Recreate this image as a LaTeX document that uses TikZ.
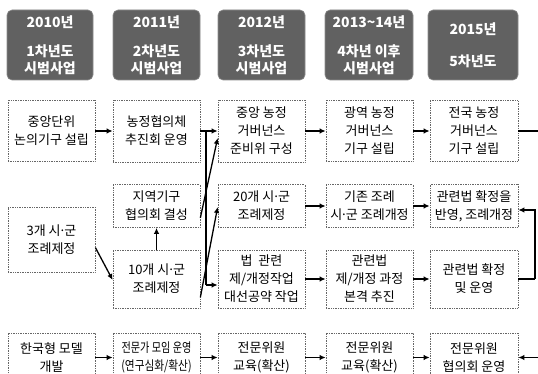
\documentclass[tikz,border=0pt]{standalone}
\usepackage{fontspec}
\setmainfont{Noto Sans CJK KR}
\usetikzlibrary{arrows.meta,calc}
\newcommand{\mdt}{\kern-1.8pt·\kern-1.8pt}
\tikzset{
  hdr/.style={rectangle, rounded corners=5pt, fill=black!62, draw=black!45, line width=0.6pt,
    text=white, font=\bfseries\fontsize{14}{17}\selectfont, align=center,
    minimum width=87pt, minimum height=70pt, inner sep=0pt},
  box/.style={rectangle, draw=black!60, densely dotted, line width=0.7pt,
    font=\fontsize{13}{18}\selectfont, align=center, inner sep=1pt,
    minimum width=87pt},
  arr/.style={-{Latex[length=6pt,width=5.5pt]}, line width=1.3pt},
  ln/.style={line width=1.3pt}
}
\begin{document}
\begin{tikzpicture}[x=1pt,y=-1pt]
\useasboundingbox (0,0) rectangle (538,374);
% headers
\node[hdr, minimum width=86pt] (h1) at (50,45) {2010년\\[12pt]1차년도\\시범사업};
\node[hdr] (h2) at (156.5,45) {2011년\\[12pt]2차년도\\시범사업};
\node[hdr] (h3) at (261.5,45) {2012년\\[12pt]3차년도\\시범사업};
\node[hdr, minimum width=88pt] (h4) at (369,45) {2013\textasciitilde14년\\[12pt]4차년 이후\\시범사업};
\node[hdr, minimum width=90pt] (h5) at (473,45) {2015년\\[15pt]5차년도};
% row A
\node[box, minimum height=61pt] (a1) at (51.5,131) {중앙단위\\논의기구 설립};
\node[box, minimum height=62pt] (a2) at (156.5,131) {농정협의체\\추진회 운영};
\node[box, minimum height=62pt] (a3) at (261.5,131) {중앙 농정\\거버넌스\\준비위 구성};
\node[box, minimum height=61pt] (a4) at (369.5,131) {광역 농정\\거버넌스\\기구 설립};
\node[box, minimum height=61pt, minimum width=88pt] (a5) at (474,131) {전국 농정\\거버넌스\\기구 설립};
% row B
\node[box, minimum height=43pt] (b2) at (156.5,206) {지역기구\\협의회 결성};
\node[box, minimum height=43pt] (b3) at (261.5,206) {20개 시\mdt 군\\조례제정};
\node[box, minimum height=43pt] (b4) at (369.5,206) {기존 조례\\시\mdt 군 조례개정};
\node[box, minimum height=43pt, minimum width=88pt] (b5) at (474,206) {관련법 확정을\\반영, 조례개정};
% row C
\node[box, minimum height=65pt] (c1) at (51.5,239.5) {3개 시\mdt 군\\조례제정};
\node[box, minimum height=58pt] (c2) at (156.5,279) {10개 시\mdt 군\\조례제정};
\node[box, minimum height=58pt] (c3) at (261.5,279) {법 \ 관련\\제/개정작업\\대선공약 작업};
\node[box, minimum height=58pt] (c4) at (369.5,279) {관련법\\제/개정 과정\\본격 추진};
\node[box, minimum height=58pt, minimum width=88pt] (c5) at (474,279) {관련법 확정\\및 운영};
% row D
\node[box, minimum height=49pt] (d1) at (51.5,357.5) {한국형 모델\\개발};
\node[box, minimum height=49pt] (d2) at (156.5,357.5) {\scalebox{.78}[1]{전문가 모임 운영}\\\scalebox{.82}[1]{(연구심화/확산)}};
\node[box, minimum height=49pt] (d3) at (261.5,357.5) {전문위원\\교육(확산)};
\node[box, minimum height=49pt] (d4) at (369.5,357.5) {전문위원\\교육(확산)};
\node[box, minimum height=49pt, minimum width=88pt] (d5) at (474,357.5) {전문위원\\협의회 운영};
% connectors row A
\draw[arr] (a1) -- (a2);
\draw[arr] (a2) -- (a3);
\draw[arr] (a3) -- (a4);
\draw[arr] (a4) -- (a5);
\coordinate (ea) at (538,131);
\draw[ln] (a5.east) -- (ea);
% branch from A2
\coordinate (br) at (206,131);
\coordinate (brb) at (206,285);
\draw[ln] (br) -- (brb);
\draw[arr] (brb) -- (brb -| c3.west);
% diagonals
\draw[arr] ($(b2.south east)+(0,-10)$) -- ($(a3.west)+(0,7)$);
\draw[arr] ($(c2.south east)+(0,-11)$) -- ($(b3.west)+(0,1)$);
\draw[arr] ($(c1.east)+(0,8)$) -- ($(c2.west)+(0,1)$);
\draw[arr] (c2.north) -- (b2.south);
% row B
\draw[arr] (b3) -- (b4);
\draw[arr] (b4) -- (b5);
% row C
\draw[arr] (c3) -- (c4);
\draw[arr] (c4) -- (c5);
\coordinate (rc) at (535,279);
\draw[ln] (c5.east) -- (rc);
\draw[arr] (rc) |- ($(b5.east)+(0,4)$);
% row D
\draw[arr] (d1) -- (d2);
\draw[arr] (d2) -- (d3);
\draw[arr] (d3) -- (d4);
\draw[arr] (d4) -- (d5);
\coordinate (ed) at (538,357.5);
\draw[arr] (ed) -- (d5.east);
\end{tikzpicture}
\end{document}
